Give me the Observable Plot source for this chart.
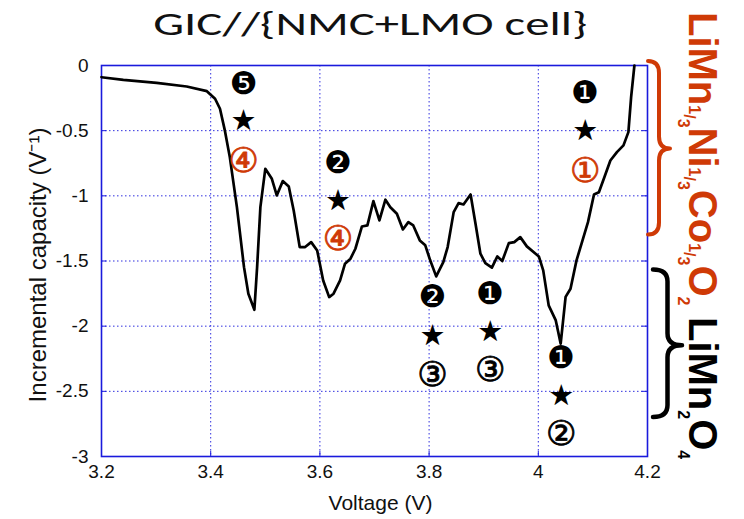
<!DOCTYPE html>
<html>
<head>
<meta charset="utf-8">
<script src="https://cdn.jsdelivr.net/npm/d3@7"></script>
<script src="https://cdn.jsdelivr.net/npm/@observablehq/plot@0.6"></script>
<style>
  html, body { margin: 0; padding: 0; background: #fff; }
  #chart { position: relative; width: 744px; height: 519px; }
  #title {
    position: absolute; left: 0; top: 3px; width: 740px; text-align: center;
    font-family: Carlito, Calibri, Lato, "Open Sans", sans-serif;
    font-size: 32px; color: #111; line-height: 44px; z-index: 2;
  }
  #title span { display: inline-block; transform-origin: 50% 50%; }
</style>
</head>
<body>
<div id="chart"><div id="title"><span>GIC//{NMC+LMO cell}</span></div></div>
<script>
// Incremental capacity curve of the graphite // (NMC + LMO) cell
const voltage = [
  3.200, 3.240, 3.301, 3.356, 3.393, 3.408, 3.417, 3.426, 3.435, 3.448,
  3.461, 3.469, 3.480, 3.485, 3.491, 3.500, 3.512, 3.521, 3.532, 3.543,
  3.552, 3.563, 3.573, 3.584, 3.595, 3.606, 3.617, 3.625, 3.637, 3.646,
  3.656, 3.665, 3.677, 3.687, 3.698, 3.709, 3.720, 3.729, 3.741, 3.752,
  3.762, 3.771, 3.783, 3.793, 3.802, 3.813, 3.826, 3.834, 3.845, 3.854,
  3.863, 3.876, 3.885, 3.894, 3.903, 3.915, 3.925, 3.934, 3.946, 3.956,
  3.967, 3.979, 4.001, 4.009, 4.019, 4.032, 4.041, 4.050, 4.059, 4.070,
  4.081, 4.091, 4.102, 4.111, 4.121, 4.132, 4.144, 4.156, 4.165, 4.170,
  4.176
];
const capacity = [
  -0.090, -0.110, -0.133, -0.161, -0.197, -0.255, -0.332, -0.500, -0.703, -1.087,
  -1.547, -1.751, -1.874, -1.547, -1.087, -0.793, -0.869, -0.997, -0.887, -0.928,
  -1.112, -1.393, -1.393, -1.355, -1.419, -1.649, -1.777, -1.751, -1.649, -1.521,
  -1.482, -1.406, -1.235, -1.227, -1.041, -1.189, -1.030, -1.087, -1.137, -1.258,
  -1.202, -1.227, -1.342, -1.380, -1.495, -1.618, -1.508, -1.393, -1.125, -1.056,
  -1.066, -0.990, -1.214, -1.444, -1.516, -1.551, -1.465, -1.500, -1.363, -1.355,
  -1.317, -1.388, -1.465, -1.572, -1.840, -1.956, -2.134, -1.775, -1.713, -1.495,
  -1.342, -1.202, -0.990, -0.972, -0.857, -0.729, -0.665, -0.613, -0.511, -0.243,
  0.000
];

const xTicks = [3.2, 3.4, 3.6, 3.8, 4, 4.2];
const yTicks = [0, -0.5, -1, -1.5, -2, -2.5, -3];

// Peak annotations: filled number (top), star (peak), circled number (bottom)
const noteX       = [3.46, 3.633, 3.806, 3.912, 4.042, 4.086];
const noteTop     = ["❺", "❷", "❷", "❶", "❶", "❶"];
const noteTopY    = [-0.14, -0.749, -1.777, -1.751, -2.242, -0.212];
const noteStarY   = [-0.427, -1.04, -2.077, -2.045, -2.531, -0.504];
const noteBottom  = ["④", "④", "③", "③", "②", "①"];
const noteBottomY = [-0.736, -1.329, -2.372, -2.339, -2.83, -0.81];
const noteIsNMC   = [true, true, false, false, false, true];

const ORANGE = "#cf3a06";
const BLUE = "#1a1adc";

const curve = voltage.map((v, i) => ({v, c: capacity[i]}));
const notes = noteX.flatMap((x, i) => [
  {x, y: noteTopY[i], t: noteTop[i], color: "#000", size: 31, outline: 0},
  {x, y: noteStarY[i], t: "★", color: "#000", size: 29, outline: 0},
  {x, y: noteBottomY[i], t: noteBottom[i], color: noteIsNMC[i] ? ORANGE : "#000", size: 34, outline: 0.8}
]);

const plot = Plot.plot({
  width: 744,
  height: 519,
  marginTop: 65,
  marginBottom: 63,
  marginLeft: 101,
  marginRight: 97,
  style: {fontFamily: "'Liberation Sans', Arial, sans-serif", fontSize: "19px", color: "#111", background: "transparent", overflow: "visible"},
  x: {domain: [3.2, 4.2]},
  y: {domain: [-3, 0]},
  marks: [
    Plot.gridX(xTicks, {stroke: BLUE, strokeOpacity: 0.9, strokeDasharray: "1.5 2.5"}),
    Plot.gridY(yTicks, {stroke: BLUE, strokeOpacity: 0.9, strokeDasharray: "1.5 2.5"}),
    Plot.ruleY(yTicks, {x1: 3.2, x2: 3.21, stroke: BLUE}),
    Plot.ruleY(yTicks, {x1: 4.19, x2: 4.2, stroke: BLUE}),
    Plot.ruleX(xTicks, {y1: -3, y2: -2.96, stroke: BLUE}),
    Plot.frame({stroke: BLUE, strokeWidth: 1.6}),
    Plot.axisX(xTicks, {tickSize: 0, tickPadding: 8, tickFormat: d => String(d), label: null}),
    Plot.axisY(yTicks, {tickSize: 0, tickPadding: 13, tickFormat: d => String(d), label: null}),
    Plot.text(["Voltage (V)"], {frameAnchor: "bottom", textAnchor: "middle", dx: 6, dy: 47, fontSize: 21, lineAnchor: "middle"}),
    Plot.text(["Incremental capacity (V⁻¹)"], {frameAnchor: "left", textAnchor: "middle", dx: -63, dy: 4, rotate: -90, fontSize: 24, lineAnchor: "middle"}),
    Plot.line(curve, {x: "v", y: "c", stroke: "#000", strokeWidth: 2.7, strokeLinejoin: "round"}),
    Plot.text(notes, {x: "x", y: "y", text: "t", fill: "color", stroke: "color", strokeWidth: "outline", fontSize: "size", fontFamily: "'DejaVu Sans', sans-serif", lineAnchor: "middle"})
  ]
});

document.getElementById("chart").prepend(plot);
plot.style.position = "absolute";
plot.style.left = "0";
plot.style.top = "0";

// Stretch the title to its full width
const titleSpan = document.querySelector("#title span");
const tw = titleSpan.getBoundingClientRect().width;
titleSpan.style.transform = `scaleX(${434 / tw})`;

// Side labels: braces and rotated formulas for the two cathode materials
const svg = d3.select(plot);
const y = plot.scale("y");
const xRight = 647;

function brace(x0, tipX, y0, y1, ym, color, width) {
  const c = x0 + (tipX - x0) * 0.5;
  const r = 12;
  const d = `M${x0},${y0} Q${c},${y0} ${c},${y0 + r} L${c},${ym - r} Q${c},${ym} ${tipX},${ym}` +
            ` Q${c},${ym} ${c},${ym + r} L${c},${y1 - r} Q${c},${y1} ${x0},${y1}`;
  svg.append("path").attr("d", d).attr("fill", "none").attr("stroke", color)
    .attr("stroke-width", width).attr("stroke-linecap", "round").attr("stroke-linejoin", "round");
}
brace(xRight + 1, 670, y.apply(0.03), y.apply(-1.3), y.apply(-0.64), ORANGE, 4);
brace(xRight + 6, 682, y.apply(-1.57), y.apply(-2.7), y.apply(-2.15), "#000", 4.5);

function formula(x, yStart, parts, color) {
  const t = svg.append("text")
    .attr("transform", `translate(${x},${yStart}) rotate(90)`)
    .attr("text-anchor", "start")
    .attr("fill", color)
    .attr("font-family", "'Liberation Sans', Arial, sans-serif")
    .attr("font-weight", "bold")
    .attr("font-size", 40);
  let base = 0;
  for (const [s, kind] of parts) {
    const span = t.append("tspan").text(s);
    let shift = 0, size = 40;
    if (kind === "num") { shift = 0; size = 16; }
    else if (kind === "slash") { shift = 5; size = 16; }
    else if (kind === "den" || kind === "sub") { shift = 11; size = 16; }
    span.attr("font-size", size).attr("dy", shift - base);
    base = shift;
  }
}
const third = [["1", "num"], ["/", "slash"], ["3", "den"]];
formula(689, 12, [["LiMn"], ...third, ["Ni"], ...third, ["Co"], ...third, ["O"], ["2", "sub"]], ORANGE);
formula(689, 317, [["LiMn"], ["2", "sub"], ["O"], ["4", "sub"]], "#000");
</script>
</body>
</html>
